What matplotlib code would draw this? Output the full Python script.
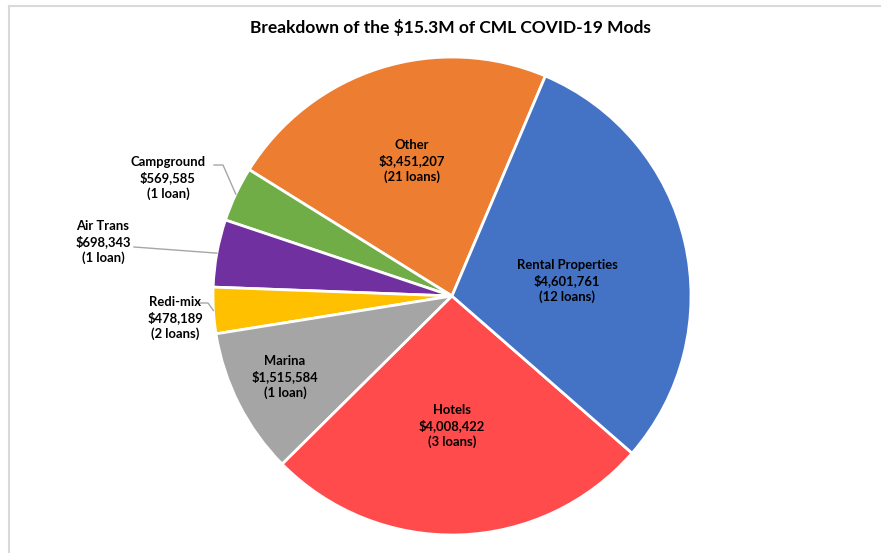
import numpy as np
import matplotlib.pyplot as plt
from matplotlib.lines import Line2D

# Slices in drawing order (counter-clockwise from the top right)
categories = ["Other", "Campground", "Air Trans", "Redi-mix", "Marina", "Hotels", "Rental Properties"]
amounts = [3451207, 569585, 698343, 478189, 1515584, 4008422, 4601761]
loans = [21, 1, 1, 2, 1, 3, 12]
colors = ["#ED7D31", "#70AD47", "#7030A0", "#FFC000", "#A5A5A5", "#FF4B4B", "#4472C4"]

plt.rcParams["font.family"] = ["Lato", "DejaVu Sans"]

W, H = 881, 553
fig = plt.figure(figsize=(W / 100, H / 100), dpi=100)
ax = fig.add_axes([0, 0, 1, 1])

cx, cy, r = 452, H - 296, 239
wedges, _ = ax.pie(
    amounts,
    colors=colors,
    startangle=67,
    counterclock=True,
    radius=r,
    center=(cx, cy),
    wedgeprops=dict(edgecolor="white", linewidth=2),
)
ax.set_xlim(0, W)
ax.set_ylim(0, H)
ax.axis("off")

# label block centres, in image pixels
label_pos = {
    "Other": (412, 161),
    "Campground": (168, 178),
    "Air Trans": (103, 242),
    "Redi-mix": (175, 318),
    "Marina": (285, 377),
    "Hotels": (452, 426),
    "Rental Properties": (567, 281),
}

for name, amt, n in zip(categories, amounts, loans):
    x, y = label_pos[name]
    txt = f"{name}\n${amt:,}\n({n} loan{'s' if n > 1 else ''})"
    ax.text(x, H - y, txt, ha="center", va="center", fontsize=9.4,
            fontweight="bold", color="black", linespacing=1.3)

# leader lines for the small outside labels
leader_start = {
    "Campground": [(214, 165), (223, 165)],
    "Air Trans": [(134, 247)],
    "Redi-mix": [(200, 303), (208, 303)],
}
for w, name in zip(wedges, categories):
    if name not in leader_start:
        continue
    th = np.deg2rad((w.theta1 + w.theta2) / 2)
    end = (cx + r * np.cos(th), cy + r * np.sin(th))
    pts = [(px, H - py) for px, py in leader_start[name]] + [end]
    xs, ys = zip(*pts)
    ax.plot(xs, ys, color="#A6A6A6", linewidth=1)

fig.text(450 / W, 1 - 27 / H, "Breakdown of the $15.3M of CML COVID-19 Mods",
         ha="center", va="center", fontsize=12.5, fontweight="bold", color="black")

# chart frame (only top and left edges visible)
fig.add_artist(Line2D([8.5 / W, 1], [1 - 5.5 / H, 1 - 5.5 / H], color="#D9D9D9", linewidth=1.5))
fig.add_artist(Line2D([8.5 / W, 8.5 / W], [0, 1 - 5.5 / H], color="#D9D9D9", linewidth=1.5))

fig.savefig("out.png", dpi=100)
